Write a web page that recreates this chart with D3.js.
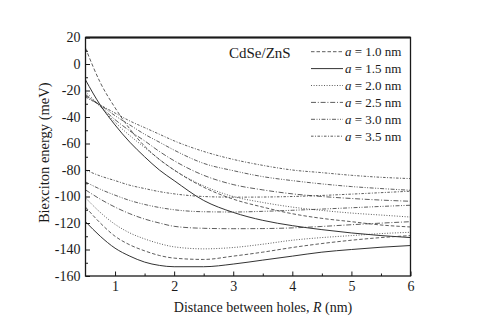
<!DOCTYPE html>
<html>
<head>
<meta charset="utf-8">
<script src="https://cdn.jsdelivr.net/npm/d3@7"></script>
<style>
  body { margin: 0; background: #fff; }
  text { font-family: "Liberation Serif", "Times New Roman", serif; fill: #1a1a1a; }
</style>
</head>
<body>
<div id="chart"></div>
<script>
// distance between holes R (nm)
const R = [0.5, 0.75, 1, 1.25, 1.5, 1.75, 2, 2.5, 3, 3.5, 4, 4.5, 5, 5.5, 6]

// upper branch for each a
const upper10 = [12, -14, -33, -49, -62, -72, -80, -93, -102, -108, -113, -116.5, -119, -121.5, -123]
const upper15 = [-12, -31, -46, -59, -70, -80, -88, -103, -112, -118, -122, -125, -127.5, -129.5, -131]
const upper20 = [-21, -32, -44, -54, -63, -72, -80, -92, -100, -104.5, -108, -110.5, -112.5, -114, -115.5]
const upper25 = [-23, -32, -42, -50.5, -58, -66, -73, -84, -91, -95, -98, -100, -101.5, -102.7, -103.6]
const upper30 = [-24, -31, -39, -46, -53, -59, -65, -75, -80.5, -85, -88, -90.5, -92.5, -94, -95.3]
const upper35 = [-25, -31, -37, -43, -48, -53, -58, -66, -72, -76.5, -80, -82, -84, -85.5, -86.5]

// lower branch for each a
const lower10 = [-108, -120, -130, -136.5, -141, -144.5, -146.5, -147.5, -145, -142, -138.5, -135.5, -133, -131, -129.5]
const lower15 = [-119, -130, -139, -145, -149.5, -152, -153, -153, -151, -148, -145, -142, -140, -138.3, -137]
const lower20 = [-101, -112, -121, -127.5, -132, -135.5, -138, -139.5, -138.5, -136, -133, -131, -129.5, -128, -127]
const lower25 = [-95, -102, -108, -113, -117, -120, -122.5, -124, -124.3, -124.2, -123.7, -122.6, -121.3, -120.1, -119]
const lower30 = [-89, -94.5, -99, -103, -106, -108.3, -110, -111.5, -111.7, -111.2, -110.4, -109.5, -108.5, -107.5, -106.6]
const lower35 = [-80, -84.5, -88, -91.5, -94, -96.3, -98, -100, -100.5, -100.4, -100, -99.2, -98.2, -97.1, -96]

const legendLabels = ["1.0", "1.5", "2.0", "2.5", "3.0", "3.5"]
const xTicks = [1, 2, 3, 4, 5, 6]
const yTicks = [-160, -140, -120, -100, -80, -60, -40, -20, 0, 20]

const dashes = ["3.5,2", null, "1,1.6", "5,1.8,1,1.8", "4,1.5,1,1.5,1,1.5", "2.5,1.5,1,1.5"]
const series = [
  [upper10, lower10], [upper15, lower15], [upper20, lower20],
  [upper25, lower25], [upper30, lower30], [upper35, lower35]
]

const width = 477, height = 331
const margin = {left: 85.5, right: 66.5, top: 37.5, bottom: 55}
const plotW = width - margin.left - margin.right
const plotH = height - margin.top - margin.bottom

const svg = d3.select("#chart").append("svg")
  .attr("width", width)
  .attr("height", height)

const x = d3.scaleLinear().domain([0.5, 6]).range([margin.left, margin.left + plotW])
const y = d3.scaleLinear().domain([-160, 20]).range([margin.top + plotH, margin.top])

svg.append("defs").append("clipPath").attr("id", "clip")
  .append("rect")
  .attr("x", margin.left).attr("y", margin.top)
  .attr("width", plotW).attr("height", plotH)

// curves
const line = d3.line()
  .x((d, i) => x(R[i]))
  .y(d => y(d))
  .curve(d3.curveMonotoneX)

const curves = svg.append("g").attr("clip-path", "url(#clip)")
series.forEach((pair, k) => {
  pair.forEach(vals => {
    curves.append("path")
      .attr("d", line(vals))
      .attr("fill", "none")
      .attr("stroke", "#333")
      .attr("stroke-width", k == 1 ? 1 : 0.8)
      .attr("stroke-dasharray", dashes[k])
  })
})

// axes, ticks inward
const yAxis = d3.axisLeft(y)
  .tickValues(yTicks)
  .tickFormat(d => String(d))
  .tickSize(-4.5)
  .tickPadding(5)
const yMinor = d3.axisLeft(y)
  .tickValues(d3.range(-150, 20, 20))
  .tickFormat("")
  .tickSize(-2.5)
const xAxis = d3.axisBottom(x)
  .tickValues(xTicks)
  .tickFormat(d => String(d))
  .tickSize(-4.5)
  .tickPadding(5)
const xMinor = d3.axisBottom(x)
  .tickValues([1.5, 2.5, 3.5, 4.5, 5.5])
  .tickFormat("")
  .tickSize(-2.5)

svg.append("g").attr("transform", `translate(${margin.left},0)`).call(yAxis)
svg.append("g").attr("transform", `translate(${margin.left},0)`).call(yMinor)
svg.append("g").attr("transform", `translate(0,${margin.top + plotH})`).call(xAxis)
svg.append("g").attr("transform", `translate(0,${margin.top + plotH})`).call(xMinor)

svg.selectAll(".domain").remove()
svg.selectAll(".tick line").attr("stroke", "#1a1a1a").attr("stroke-width", 1)
svg.selectAll(".tick text").attr("font-family", "Liberation Serif").style("font-size", "14px")

// frame
svg.append("rect")
  .attr("x", margin.left).attr("y", margin.top)
  .attr("width", plotW).attr("height", plotH)
  .attr("fill", "none")
  .attr("stroke", "#1a1a1a")
  .attr("stroke-width", 1.3)
svg.append("line")
  .attr("x1", margin.left).attr("x2", margin.left + plotW)
  .attr("y1", margin.top).attr("y2", margin.top)
  .attr("stroke", "#1a1a1a")
  .attr("stroke-width", 2)

// axis titles
const xt = svg.append("text")
  .attr("x", margin.left + plotW / 2 + 15)
  .attr("y", 312)
  .attr("text-anchor", "middle")
  .style("font-size", "14px")
xt.append("tspan").text("Distance between holes, ")
xt.append("tspan").style("font-style", "italic").text("R")
xt.append("tspan").text(" (nm)")

svg.append("text")
  .attr("transform", `translate(49,${margin.top + plotH / 2 - 4}) rotate(-90)`)
  .attr("text-anchor", "middle")
  .style("font-size", "14.5px")
  .text("Biexciton energy (meV)")

// sample label
svg.append("text")
  .attr("x", 229)
  .attr("y", 58)
  .style("font-size", "15px")
  .text("CdSe/ZnS")

// legend
const legend = svg.append("g")
legendLabels.forEach((lab, k) => {
  const ly = 51.7 + k * 16.9
  legend.append("line")
    .attr("x1", 311).attr("x2", 343)
    .attr("y1", ly).attr("y2", ly)
    .attr("stroke", "#333")
    .attr("stroke-width", k == 1 ? 1 : 0.8)
    .attr("stroke-dasharray", dashes[k])
  const t = legend.append("text")
    .attr("x", 345)
    .attr("y", ly + 4.5)
    .style("font-size", "13px")
  t.append("tspan").style("font-style", "italic").text("a")
  t.append("tspan").text(" = " + lab + " nm")
})
</script>
</body>
</html>
